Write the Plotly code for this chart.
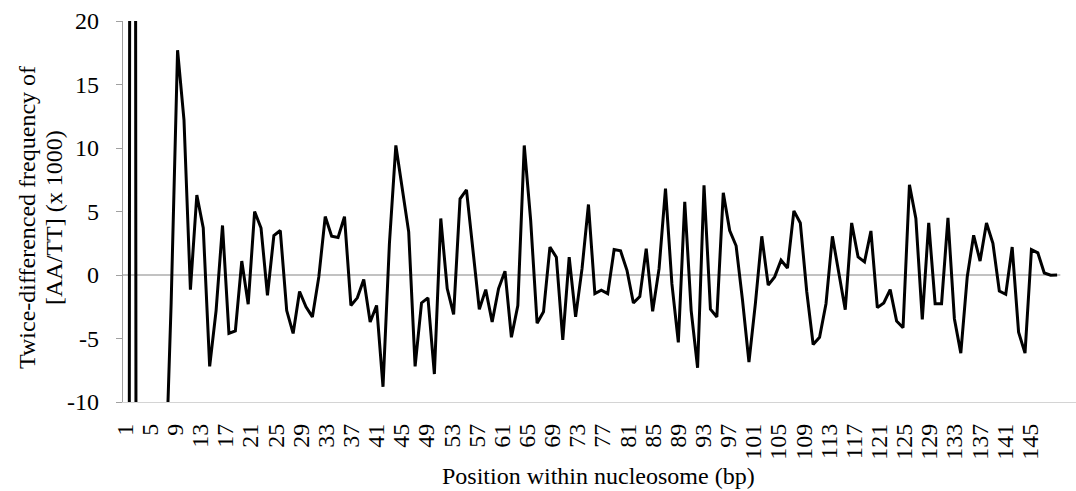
import plotly.graph_objects as go

# ---- data ----
positions = list(range(1, 147))
values = [
    -300, 300, -300, -60, -35, -25, -18,          # 1-7 (off-scale artefacts)
    -2.2, 17.7, 12.2, -1.15, 6.3, 3.7, -7.2, -2.8, 3.9, -4.6,   # 8-17
    -4.4, 1.1, -2.3, 5.0, 3.7, -1.6, 3.1, 3.5, -2.8, -4.6,      # 18-27
    -1.3, -2.5, -3.3, -0.15, 4.6, 3.05, 2.95, 4.6, -2.4, -1.8,  # 28-37
    -0.36, -3.7, -2.4, -8.8, 2.5, 10.2, 6.6, 3.4, -7.2, -2.2,   # 38-47
    -1.8, -7.8, 4.45, -1.07, -3.1, 6.0, 6.7, 2.2, -2.7, -1.15,  # 48-57
    -3.7, -1.07, 0.3, -4.9, -2.4, 10.2, 4.3, -3.8, -2.9, 2.2,   # 58-67
    1.4, -5.1, 1.4, -3.3, 0.5, 5.55, -1.47, -1.2, -1.47, 2.0,   # 68-77
    1.9, 0.37, -2.2, -1.7, 2.08, -2.86, 0.5, 6.8, -0.7, -5.3,   # 78-87
    5.76, -2.8, -7.3, 7.07, -2.7, -3.3, 6.47, 3.5, 2.3, -2.0,   # 88-97
    -6.86, -2.26, 3.05, -0.8, -0.15, 1.16, 0.55, 5.05, 4.1, -1.3,  # 98-107
    -5.47, -4.9, -2.26, 3.05, 0.3, -2.73, 4.1, 1.42, 1.03, 3.47,   # 108-117
    -2.57, -2.2, -1.15, -3.63, -4.15, 7.1, 4.45, -3.5, 4.1, -2.26, # 118-127
    -2.26, 4.5, -3.44, -6.15, -0.15, 3.13, 1.1, 4.1, 2.5, -1.26,   # 128-137
    -1.52, 2.2, -4.5, -6.15, 2.0, 1.74, 0.16, -0.02, 0.0,          # 138-146
]
tick_labels = list(range(1, 146, 4))
y_ticks = [-10, -5, 0, 5, 10, 15, 20]

# ---- layout geometry ----
W, H = 1076, 491
ML, MR, MT, MB = 123, 0, 21, 89
PW, PH = W - ML - MR, H - MT - MB
STEP = 6.42          # px per data position
LSTEP = 6.285        # px per tick-label position
L1_PIX = 125.0       # pixel of label "1"

def px2paper_x(px):
    return (px - ML) / PW

def px2paper_y(py):
    return (H - MB - py) / PH

FONT = "Liberation Serif, Times New Roman, serif"

fig = go.Figure()
fig.add_trace(go.Scatter(
    x=positions, y=values, mode="lines",
    line=dict(color="black", width=3),
    showlegend=False, hoverinfo="skip",
))
# helper trace for label axis
fig.add_trace(go.Scatter(
    x=[tick_labels[0], tick_labels[-1]], y=[0, 0], xaxis="x2",
    mode="lines", line=dict(width=0), opacity=0,
    showlegend=False, hoverinfo="skip",
))

x_lo = 0.5
x_hi = x_lo + PW / STEP
x2_lo = 1 + (ML - L1_PIX) / LSTEP
x2_hi = 1 + (W - MR - L1_PIX) / LSTEP

fig.add_shape(type="line", xref="x", yref="y",
              x0=x_lo, x1=len(positions) + 0.5, y0=0, y1=0,
              line=dict(color="#868686", width=1.2), layer="below")

fig.update_layout(
    width=W, height=H,
    margin=dict(l=ML, r=MR, t=MT, b=MB),
    paper_bgcolor="white", plot_bgcolor="white",
    font=dict(family=FONT, size=24, color="black"),
    xaxis=dict(range=[x_lo, x_hi], showline=True, linecolor="#d4d4d4",
               linewidth=1.3, showticklabels=False, ticks="",
               showgrid=False, zeroline=False),
    xaxis2=dict(range=[x2_lo, x2_hi], overlaying="x", anchor="y", side="bottom",
                tickmode="array", tickvals=tick_labels,
                ticktext=[str(t) for t in tick_labels],
                tickangle=-90, ticks="", showline=False, showgrid=False,
                zeroline=False, ticklabelstandoff=16,
                tickfont=dict(family=FONT, size=24, color="black")),
    yaxis=dict(range=[-10, 20], tickmode="array", tickvals=y_ticks,
               ticktext=[str(t) for t in y_ticks],
               showline=True, linecolor="#a0a0a0", linewidth=1.3,
               ticks="outside", ticklen=6, tickcolor="#a0a0a0", tickwidth=1.3,
               showgrid=False, zeroline=False, ticklabelstandoff=12,
               tickfont=dict(family=FONT, size=24, color="black")),
)

fig.add_annotation(text="Twice-differenced frequency of", textangle=-90,
                   xref="paper", yref="paper",
                   x=px2paper_x(27), y=px2paper_y(218),
                   xanchor="center", yanchor="middle", showarrow=False,
                   font=dict(family=FONT, size=24, color="black"))
fig.add_annotation(text="[AA/TT] (x 1000)", textangle=-90,
                   xref="paper", yref="paper",
                   x=px2paper_x(54), y=px2paper_y(218),
                   xanchor="center", yanchor="middle", showarrow=False,
                   font=dict(family=FONT, size=24, color="black"))
fig.add_annotation(text="Position within nucleosome (bp)",
                   xref="paper", yref="paper",
                   x=px2paper_x(598), y=px2paper_y(476),
                   xanchor="center", yanchor="middle", showarrow=False,
                   font=dict(family=FONT, size=24, color="black"))

fig.write_html("out.html")
